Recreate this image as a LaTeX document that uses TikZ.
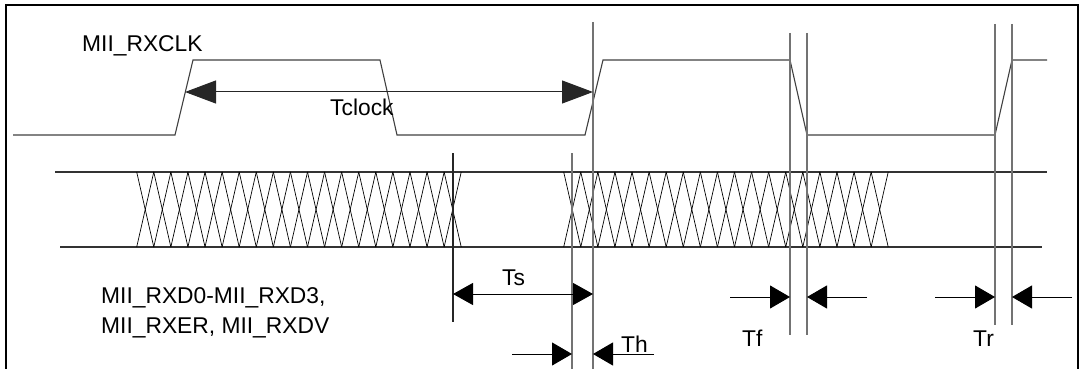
\documentclass[tikz,border=0pt]{standalone}
\usepackage{fontspec}
\setmainfont{Liberation Sans}
\usetikzlibrary{arrows.meta}
\tikzset{
  frameline/.style={line width=2.2pt, black},
  clk/.style={line width=1.1pt, draw=black!75, line join=miter},
  guide/.style={line width=1.3pt, draw=black!55},
  guideb/.style={line width=1.1pt, draw=black!85},
  bus/.style={line width=1.1pt, draw=black!80},
  hatch/.style={line width=0.7pt, draw=black},
  dim/.style={line width=1pt, draw=black, -{Triangle[length=20pt,width=23pt]}},
  dimboth/.style={line width=1pt, draw=black, {Triangle[length=20pt,width=22pt]}-{Triangle[length=20pt,width=22pt]}},
  dimclk/.style={line width=1pt, draw=black!85, {Triangle[length=31pt,width=23pt]}-{Triangle[length=31pt,width=23pt]}},
  lbl/.style={inner sep=0pt, anchor=base west, font=\fontsize{22.8}{30}\selectfont}
}
\begin{document}
\begin{tikzpicture}[x=1pt,y=-1pt]
\useasboundingbox (0,0) rectangle (1080,369);
% frame
\draw[frameline] (6,372) -- (6,5) -- (1078,5) -- (1078,372);
% clock waveform
\draw[clk] (13,135) -- (175,135) -- (193,60) -- (380,60) -- (397,135) -- (585,135) -- (603,60) -- (790,60) -- (807,135) -- (995,135) -- (1012,60) -- (1047,60);
% bus lines
\draw[bus] (55,172) -- (1047,172);
\draw[bus] (60,247) -- (1042,247);
% crosshatch
\foreach \s in {136.7,563.7}{
  \foreach \i in {0,...,18}{
    \pgfmathsetmacro{\xa}{\s+17.08*\i}
    \pgfmathsetmacro{\xb}{\s+17.08*(\i+1)}
    \draw[hatch] (\xa,172) -- (\xb,247);
    \draw[hatch] (\xa,247) -- (\xb,172);
  }
}
% guide lines
\draw[guide] (593,22) -- (593,369);
\draw[guide] (572,153) -- (572,369);
\draw[guideb] (453,153) -- (453,322);
\draw[guide] (790,33) -- (790,335);
\draw[guide] (807,33) -- (807,335);
\draw[guide] (995,24) -- (995,325);
\draw[guide] (1012,24) -- (1012,325);
% dimension coordinates
\coordinate (tcL) at (185,92);
\coordinate (tcR) at (593,92);
\coordinate (tsL) at (453,294);
\coordinate (tsR) at (593,294);
\coordinate (th1s) at (512,354);
\coordinate (th1e) at (572,354);
\coordinate (th2s) at (654,354);
\coordinate (th2e) at (593,354);
\coordinate (tf1s) at (730,297);
\coordinate (tf1e) at (790,297);
\coordinate (tf2s) at (867,297);
\coordinate (tf2e) at (807,297);
\coordinate (tr1s) at (935,297);
\coordinate (tr1e) at (995,297);
\coordinate (tr2s) at (1072,297);
\coordinate (tr2e) at (1012,297);
\draw[dimclk] (tcL) -- (tcR);
\draw[dimboth] (tsL) -- (tsR);
\draw[dim] (th1s) -- (th1e);
\draw[dim] (th2s) -- (th2e);
\draw[dim] (tf1s) -- (tf1e);
\draw[dim] (tf2s) -- (tf2e);
\draw[dim] (tr1s) -- (tr1e);
\draw[dim] (tr2s) -- (tr2e);
% labels
\node[lbl] (rxclk) at (82,52) {MII\_RXCLK};
\node[lbl] (tclock) at (330,116) {Tclock};
\node[lbl] (rxd1) at (101,303) {MII\_RXD0-MII\_RXD3,};
\node[lbl] (rxd2) at (101,333) {MII\_RXER, MII\_RXDV};
\node[lbl] (ts) at (502,285) {Ts};
\node[lbl] (th) at (621,352) {Th};
\node[lbl] (tf) at (742,346) {Tf};
\node[lbl] (tr) at (973,346) {Tr};
\end{tikzpicture}
\end{document}
